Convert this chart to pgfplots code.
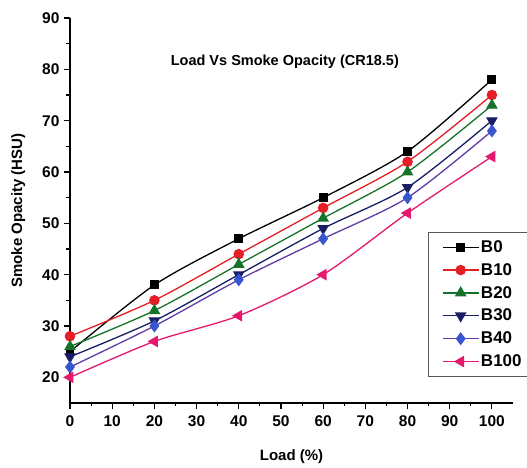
\documentclass[border=0pt]{standalone}
\usepackage{fontspec}
\setmainfont{Liberation Sans}
\usepackage{pgfplots}
\pgfplotsset{compat=1.18}
\definecolor{cB0}{RGB}{0,0,0}
\definecolor{cB10}{RGB}{228,30,36}
\definecolor{cB20}{RGB}{20,115,40}
\definecolor{cB30}{RGB}{25,30,100}
\definecolor{cB40l}{RGB}{95,60,165}
\definecolor{cB40m}{RGB}{55,85,205}
\definecolor{cB100}{RGB}{228,25,110}
\begin{document}
\begin{tikzpicture}
\useasboundingbox (-70pt,-65pt) rectangle (457pt,403pt);
\begin{axis}[
  at={(0,0)}, anchor=south west,
  scale only axis, width=443pt, height=385pt,
  xmin=0, xmax=105, ymin=15, ymax=90,
  axis x line*=bottom, axis y line*=left,
  axis line style={line width=1.2pt, -},
  xtick={0,10,...,100}, ytick={20,30,...,90},
  minor x tick num=1, minor y tick num=1,
  tick align=outside,
  major tick length=6pt, minor tick length=3.5pt,
  every tick/.style={line width=1.1pt, black},
  /pgf/number format/assume math mode=true,
  tick label style={font=\bfseries\fontsize{15.5}{17}\selectfont},
  xticklabel style={yshift=-3pt},
  yticklabel style={xshift=-1pt},
  xlabel={\bfseries Load (\%)},
  ylabel={\bfseries Smoke Opacity (HSU)},
  label style={font=\bfseries\fontsize{15}{17}\selectfont},
  xlabel style={at={(axis description cs:0.5,-0.140)}, anchor=center},
  ylabel style={at={(axis description cs:-0.117,0.5)}, anchor=center},
  every axis plot/.append style={line width=1.3pt, smooth, tension=0.45},
  legend style={at={(rel axis cs:0.808,0.444)}, anchor=north west,
     draw=gray!70!black, line width=0.9pt, font=\bfseries\fontsize{17}{19}\selectfont,
     inner xsep=14pt, inner ysep=6pt, row sep=5.5pt, legend cell align=left},
  legend image code/.code={\draw[mark repeat=2,mark phase=2,#1] plot coordinates {(0cm,0cm) (0.62cm,0cm) (1.24cm,0cm)};},
  clip=false,
]
\addplot[color=cB0, mark=square*, mark size=3.8pt] coordinates {(0,25) (20,38) (40,47) (60,55) (80,64) (100,78)};
\addlegendentry{B0}
\addplot[color=cB10, mark=*, mark size=4.6pt] coordinates {(0,28) (20,35) (40,44) (60,53) (80,62) (100,75)};
\addlegendentry{B10}
\addplot[color=cB20, mark=triangle*, mark size=5.5pt] coordinates {(0,26) (20,33) (40,42) (60,51) (80,60) (100,73)};
\addlegendentry{B20}
\addplot[color=cB30, mark=triangle*, mark options={rotate=180}, mark size=5.5pt] coordinates {(0,24) (20,31) (40,40) (60,49) (80,57) (100,70)};
\addlegendentry{B30}
\addplot[color=cB40l, mark=diamond*, mark size=5.5pt, mark options={fill=cB40m, draw=cB40m}] coordinates {(0,22) (20,30) (40,39) (60,47) (80,55) (100,68)};
\addlegendentry{B40}
\addplot[color=cB100, mark=triangle*, mark options={rotate=90}, mark size=5.5pt] coordinates {(0,20) (20,27) (40,32) (60,40) (80,52) (100,63)};
\addlegendentry{B100}
\node[font=\bfseries\fontsize{14.5}{16}\selectfont] at (rel axis cs:0.485,0.886) {Load Vs Smoke Opacity (CR18.5)};
\end{axis}
\end{tikzpicture}
\end{document}
